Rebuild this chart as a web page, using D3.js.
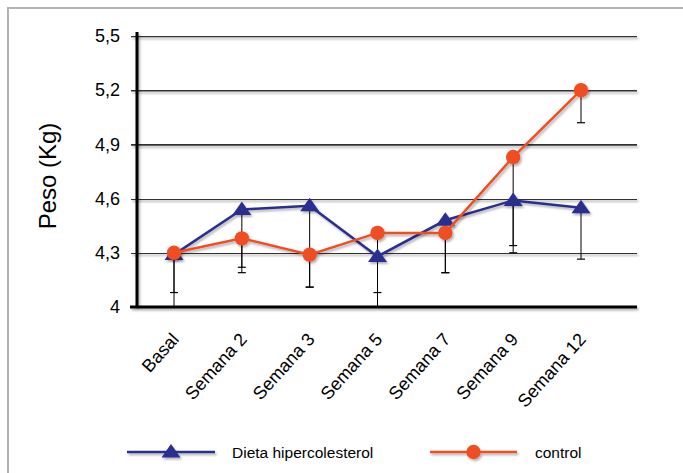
<!DOCTYPE html>
<html>
<head>
<meta charset="utf-8">
<script src="https://cdn.jsdelivr.net/npm/d3@7"></script>
<style>
  body { margin: 0; background: #fff; }
  svg { display: block; font-family: "Liberation Sans", Arial, Helvetica, sans-serif; }
</style>
</head>
<body>
<svg id="chart"></svg>
<script>
const WIDTH = 683;
const HEIGHT = 473;

const categories = ['Basal', 'Semana 2', 'Semana 3', 'Semana 5', 'Semana 7', 'Semana 9', 'Semana 12'];
const yTicks = [4, 4.3, 4.6, 4.9, 5.2, 5.5];

// mean weight and lower error (kg)
const dieta = [4.29, 4.54, 4.56, 4.28, 4.48, 4.59, 4.55];
const dietaErr = [0.21, 0.35, 0.45, 0.40, 0.29, 0.29, 0.285];
const control = [4.30, 4.38, 4.29, 4.41, 4.41, 4.83, 5.20];
const controlErr = [0.40, 0.16, 0.18, 0.33, 0.22, 0.49, 0.18];

const seriesNames = ['Dieta hipercolesterol', 'control'];
const BLUE = '#2b2f8f';
const ORANGE = '#f04e23';

const svg = d3.select('#chart')
  .attr('width', WIDTH)
  .attr('height', HEIGHT);

const defs = svg.append('defs');
// user-space region so that zero-height lines keep their shadow
const shadow = defs.append('filter')
  .attr('id', 'shadow')
  .attr('filterUnits', 'userSpaceOnUse')
  .attr('x', 0).attr('y', 0)
  .attr('width', WIDTH).attr('height', HEIGHT);
shadow.append('feDropShadow')
  .attr('dx', 1.5).attr('dy', 2)
  .attr('stdDeviation', 1.2)
  .attr('flood-color', '#000')
  .attr('flood-opacity', 0.3);

defs.append('clipPath').attr('id', 'plot-clip')
  .append('rect')
  .attr('x', 120).attr('y', 20)
  .attr('width', 540).attr('height', 287);

// frame
svg.append('path')
  .attr('d', `M8,${HEIGHT} L8,8 L${WIDTH},8`)
  .attr('fill', 'none')
  .attr('stroke', '#b3b3b3')
  .attr('stroke-width', 2);

const xScale = d3.scalePoint()
  .domain(categories)
  .range([174, 581]);

const yScale = d3.scaleLinear()
  .domain([4, 5.5])
  .range([307, 36]);

// gridlines + left ticks
const leftAxis = d3.axisLeft(yScale)
  .tickValues(yTicks)
  .tickSize(-506)
  .tickPadding(12)
  .tickFormat(d => d3.format('.1~f')(d).replace('.', ','));

const yAxisG = svg.append('g')
  .attr('transform', 'translate(131,0)')
  .call(leftAxis);
yAxisG.select('.domain').remove();
yAxisG.selectAll('.tick line')
  .attr('stroke', '#333')
  .attr('stroke-width', 1.6)
  .attr('filter', 'url(#shadow)');
yAxisG.selectAll('.tick text')
  .attr('x', -11)
  .attr('font-size', 18)
  .attr('fill', '#000');
yAxisG.selectAll('.tick').filter(d => d === 4).select('line').remove();

// y axis line
svg.append('line')
  .attr('x1', 137).attr('x2', 137)
  .attr('y1', 32).attr('y2', yScale(4))
  .attr('stroke', '#000')
  .attr('stroke-width', 3)
  .attr('filter', 'url(#shadow)');

// x axis line
svg.append('line')
  .attr('x1', 130).attr('x2', 637)
  .attr('y1', yScale(4)).attr('y2', yScale(4))
  .attr('stroke', '#000')
  .attr('stroke-width', 3.2)
  .attr('filter', 'url(#shadow)');

// x labels
svg.append('g')
  .selectAll('text')
  .data(categories)
  .join('text')
  .attr('transform', d => `translate(${xScale(d) + 6},340) rotate(-48)`)
  .attr('text-anchor', 'end')
  .attr('font-size', 18)
  .attr('fill', '#000')
  .text(d => d);

// y title
svg.append('text')
  .attr('transform', 'translate(56,176) rotate(-90)')
  .attr('text-anchor', 'middle')
  .attr('font-size', 24)
  .attr('fill', '#000')
  .text('Peso (Kg)');

// error bars (lower side only)
const errG = svg.append('g').attr('clip-path', 'url(#plot-clip)');
const errData = [];
categories.forEach((c, i) => {
  errData.push({ cat: c, mean: dieta[i], low: dieta[i] - dietaErr[i] });
  errData.push({ cat: c, mean: control[i], low: control[i] - controlErr[i] });
});
errG.selectAll('line.bar')
  .data(errData)
  .join('line')
  .attr('class', 'bar')
  .attr('x1', d => xScale(d.cat)).attr('x2', d => xScale(d.cat))
  .attr('y1', d => yScale(d.mean)).attr('y2', d => yScale(d.low))
  .attr('stroke', '#000')
  .attr('stroke-width', 1);
errG.selectAll('line.cap')
  .data(errData)
  .join('line')
  .attr('class', 'cap')
  .attr('x1', d => xScale(d.cat) - 4).attr('x2', d => xScale(d.cat) + 4)
  .attr('y1', d => yScale(d.low)).attr('y2', d => yScale(d.low))
  .attr('stroke', '#000')
  .attr('stroke-width', 1.2);

const line = d3.line()
  .x((d, i) => xScale(categories[i]))
  .y(d => yScale(d));

const triangle = (cx, cy) => `M${cx},${cy - 8} L${cx + 9.5},${cy + 5.5} L${cx - 9.5},${cy + 5.5} Z`;

// dieta series
const gBlue = svg.append('g').attr('filter', 'url(#shadow)');
gBlue.append('path')
  .datum(dieta)
  .attr('d', line)
  .attr('fill', 'none')
  .attr('stroke', BLUE)
  .attr('stroke-width', 2.5);
gBlue.selectAll('path.mark')
  .data(dieta)
  .join('path')
  .attr('class', 'mark')
  .attr('d', (d, i) => triangle(xScale(categories[i]), yScale(d)))
  .attr('fill', BLUE);

// control series
const gOrange = svg.append('g').attr('filter', 'url(#shadow)');
gOrange.append('path')
  .datum(control)
  .attr('d', line)
  .attr('fill', 'none')
  .attr('stroke', ORANGE)
  .attr('stroke-width', 2.5);
gOrange.selectAll('circle')
  .data(control)
  .join('circle')
  .attr('cx', (d, i) => xScale(categories[i]))
  .attr('cy', d => yScale(d))
  .attr('r', 7.2)
  .attr('fill', ORANGE);

// legend
const legendY = 452;
const legend = [
  { name: seriesNames[0], color: BLUE, x1: 127, x2: 215, tx: 232, shape: 'tri' },
  { name: seriesNames[1], color: ORANGE, x1: 430, x2: 517, tx: 535, shape: 'circle' },
];
legend.forEach(l => {
  const g = svg.append('g').attr('filter', 'url(#shadow)');
  g.append('line')
    .attr('x1', l.x1).attr('x2', l.x2)
    .attr('y1', legendY).attr('y2', legendY)
    .attr('stroke', l.color)
    .attr('stroke-width', 2.5);
  const cx = (l.x1 + l.x2) / 2;
  if (l.shape === 'tri') {
    g.append('path').attr('d', triangle(cx, legendY)).attr('fill', l.color);
  } else {
    g.append('circle').attr('cx', cx).attr('cy', legendY).attr('r', 7.2).attr('fill', l.color);
  }
  svg.append('text')
    .attr('x', l.tx).attr('y', legendY + 5.5)
    .attr('font-size', 15.5)
    .attr('fill', '#000')
    .text(l.name);
});
</script>
</body>
</html>
